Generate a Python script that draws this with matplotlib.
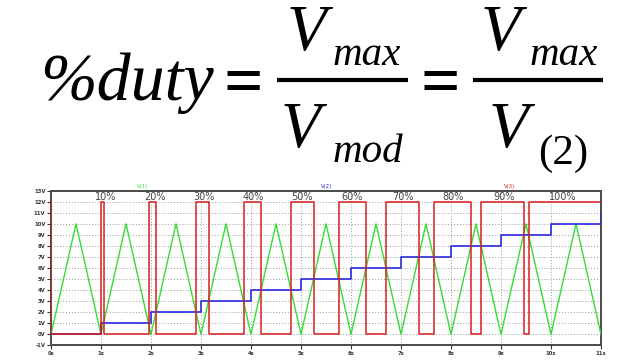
import matplotlib
matplotlib.use('Agg')
import matplotlib.pyplot as plt

# V(1): triangle carrier, vertices (s, V)
tri_t = [0.0, 0.5, 1.0, 1.5, 2.0, 2.5, 3.0, 3.5, 4.0, 4.5, 5.0, 5.5,
         6.0, 6.5, 7.0, 7.5, 8.0, 8.5, 9.0, 9.5, 10.0, 10.5, 11.0]
tri_v = [0, 10, 0, 10, 0, 10, 0, 10, 0, 10, 0, 10,
         0, 10, 0, 10, 0, 10, 0, 10, 0, 10, 0]

# V(2): staircase reference
step_t = [0, 1, 2, 3, 4, 5, 6, 7, 8, 9, 10, 11]
step_v = [0, 1, 2, 3, 4, 5, 6, 7, 8, 9, 10, 11]

# V(3): PWM output, high (12 V) between on/off edges
pwm_high = 12
pulse_on = [1.00, 1.95, 2.90, 3.85, 4.80, 5.75, 6.70, 7.65, 8.60, 9.55]
pulse_off = [1.06, 2.10, 3.15, 4.20, 5.25, 6.30, 7.35, 8.40, 9.45, 11.0]

duty_labels = ['10%', '20%', '30%', '40%', '50%', '60%', '70%', '80%', '90%', '100%']
duty_x = [1.10, 2.08, 3.06, 4.04, 5.02, 6.02, 7.04, 8.04, 9.06, 10.24]

x_ticks = list(range(0, 12))
y_ticks = list(range(-1, 14))

SERIF = 'Liberation Serif'
GREEN = '#36dc36'
BLUE = '#2a2ae0'
RED = '#d81e1e'


def main():
    fig = plt.figure(figsize=(6.4, 3.62), dpi=100)
    fig.patch.set_facecolor('white')

    # formula, laid out in pixel coordinates
    top = fig.add_axes([0, 0, 1, 1])
    top.set_xlim(0, 640)
    top.set_ylim(362, 0)
    top.axis('off')

    def put(x, y, s, size, style='italic'):
        top.text(x, y, s, fontsize=size, family=SERIF, style=style,
                 ha='left', va='baseline', color='black')

    put(40, 100, '%duty', 49)
    top.text(243, 80, '=', fontsize=50, family=SERIF, fontweight='bold',
             ha='center', va='center_baseline')
    top.plot([277, 408], [80, 80], color='black', lw=3.0, solid_capstyle='butt')
    put(287, 50, 'V', 47)
    put(333, 65, 'max', 29.5)
    put(281, 147, 'V', 47)
    put(333, 162, 'mod', 29.5)
    top.text(440, 80, '=', fontsize=50, family=SERIF, fontweight='bold',
             ha='center', va='center_baseline')
    top.plot([473, 603], [80, 80], color='black', lw=3.0, solid_capstyle='butt')
    put(481, 50, 'V', 47)
    put(530, 65, 'max', 29.5)
    put(489, 147, 'V', 47)
    put(538, 164, '(2)', 31, style='normal')

    # waveform plot
    ax = fig.add_axes([51 / 640, 1 - 345.4 / 362, 550 / 640, (345.4 - 190.7) / 362])
    ax.set_xlim(0, 11)
    ax.set_ylim(-1, 13)
    ax.set_xticks(x_ticks)
    ax.set_xticklabels([f'{t}s' for t in x_ticks])
    ax.set_yticks(y_ticks)
    ax.set_yticklabels([f'{v}V' for v in y_ticks])
    ax.tick_params(labelsize=3.8, length=3, width=0.8, pad=1, colors='#333333')
    for lab in ax.get_xticklabels() + ax.get_yticklabels():
        lab.set_fontweight('bold')
    ax.grid(True, linestyle=(0, (1, 2)), color='#999999', lw=0.7)
    for sp in ax.spines.values():
        sp.set_color('#4a4a4a')
        sp.set_linewidth(1.4)

    ax.plot(tri_t, tri_v, color=GREEN, lw=1.0, zorder=3)
    ax.plot(step_t, step_v, color=BLUE, lw=1.2, drawstyle='steps-post', zorder=4)

    px, py = [0, 0], [pwm_high, 0]
    for on, off in zip(pulse_on, pulse_off):
        px += [on, on, off]
        py += [0, pwm_high, pwm_high]
        if off < 11:
            px.append(off)
            py.append(0)
    ax.plot(px, py, color=RED, lw=1.1, zorder=5)

    for lab, x in zip(duty_labels, duty_x):
        ax.text(x, 12.2, lab, fontsize=7, color='#444444', ha='center', va='baseline')

    for name, x, col in (('V(1)', 1.84, GREEN), ('V(2)', 5.52, BLUE), ('V(3)', 9.18, RED)):
        ax.text(x, 13.15, name, fontsize=3.8, color=col, ha='center', va='bottom',
                clip_on=False)

    fig.savefig('out.png', dpi=100, facecolor='white')
    plt.close(fig)


if __name__ == '__main__':
    main()
